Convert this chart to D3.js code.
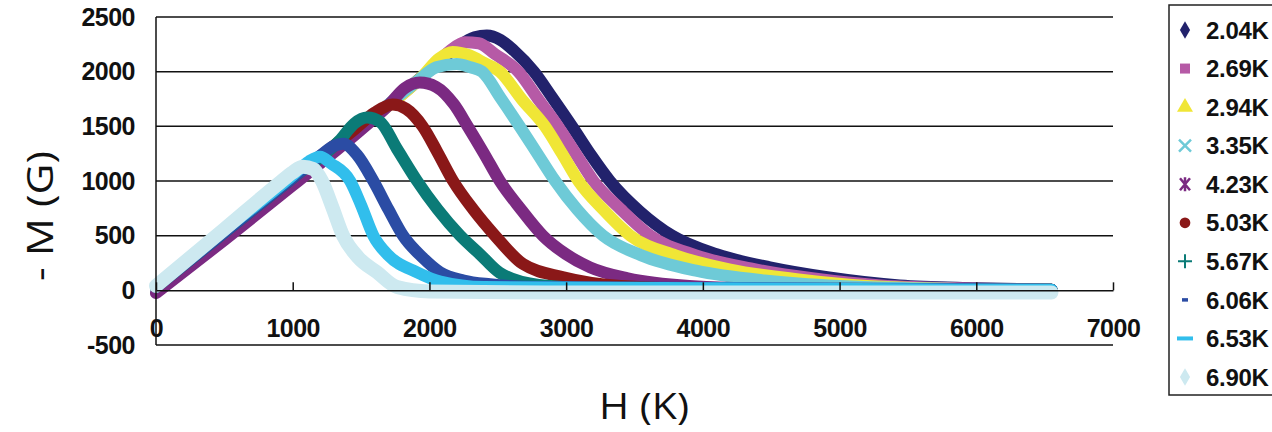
<!DOCTYPE html>
<html lang="en">

<head>
  <meta charset="utf-8">
  <title>M-H curves</title>
  <script src="https://d3js.org/d3.v7.min.js" charset="utf-8"></script>
  <style type="text/css">
    body {
      margin: 0;
      background: #fff;
    }

    .tick text {
      font-family: "Liberation Sans", Arial, sans-serif;
      font-weight: bold;
      font-size: 25px;
      letter-spacing: -0.5px;
      fill: #111;
    }

    .title {
      font-family: "Open Sans", sans-serif;
      font-size: 37px;
      fill: #111;
    }

    .legend text {
      font-family: "Liberation Sans", Arial, sans-serif;
      font-weight: bold;
      font-size: 24px;
      letter-spacing: -0.3px;
      fill: #111;
    }
  </style>
</head>

<body>
  <script type="text/javascript">
    // values: [H, -M]
    var labels = ["2.04K", "2.69K", "2.94K", "3.35K", "4.23K", "5.03K", "5.67K", "6.06K", "6.53K", "6.90K"];
    var colors = ["#22226c", "#b65aa6", "#f0e636", "#6ecad7", "#7b2a82", "#8a1818", "#0b7b77", "#2b4ca4", "#31beec", "#cde9f0"];

    var s204 = [[0, -10], [500, 480], [1000, 980], [1500, 1490], [2000, 2010], [2200, 2220], [2330, 2315], [2420, 2330], [2520, 2290], [2620, 2190], [2765, 2000], [2900, 1760], [3043, 1500], [3180, 1240], [3320, 1000], [3540, 720], [3775, 500], [4100, 330], [4490, 210], [4910, 120], [5440, 45], [6000, 20], [6550, 5]];
    var s269 = [[0, -10], [500, 480], [1000, 980], [1500, 1490], [2000, 2010], [2150, 2190], [2260, 2270], [2360, 2260], [2480, 2160], [2650, 2000], [2800, 1740], [2940, 1500], [3070, 1250], [3200, 1000], [3400, 740], [3615, 500], [3950, 320], [4350, 200], [4800, 110], [5300, 45], [6000, 15], [6550, 5]];
    var s294 = [[0, -10], [500, 480], [1000, 980], [1500, 1490], [1950, 1960], [2070, 2120], [2170, 2180], [2290, 2150], [2400, 2080], [2515, 2000], [2680, 1740], [2845, 1500], [2970, 1250], [3090, 1000], [3270, 740], [3470, 500], [3800, 320], [4200, 190], [4700, 100], [5200, 40], [6000, 10], [6550, 5]];
    var s335 = [[0, -10], [500, 480], [1000, 980], [1500, 1490], [1900, 1900], [2050, 2040], [2200, 2070], [2300, 2040], [2385, 2000], [2520, 1760], [2660, 1500], [2790, 1250], [2920, 1000], [3080, 740], [3270, 500], [3550, 320], [3950, 180], [4450, 90], [5000, 40], [6000, 10], [6550, 5]];
    var s423 = [[0, -25], [500, 460], [1000, 960], [1500, 1470], [1700, 1690], [1820, 1850], [1930, 1900], [2050, 1860], [2180, 1700], [2280, 1500], [2400, 1250], [2515, 1000], [2670, 740], [2830, 500], [3000, 330], [3175, 210], [3450, 110], [3900, 40], [4500, 15], [6550, 5]];
    var s503 = [[0, 30], [500, 530], [1000, 1030], [1450, 1470], [1600, 1625], [1730, 1700], [1830, 1660], [1950, 1500], [2060, 1260], [2173, 1000], [2320, 740], [2480, 500], [2685, 240], [2980, 120], [3400, 40], [4000, 15], [6550, 5]];
    var s567 = [[0, 30], [500, 530], [1000, 1030], [1350, 1380], [1450, 1525], [1545, 1580], [1640, 1540], [1760, 1300], [1910, 1000], [2060, 740], [2225, 500], [2370, 330], [2515, 160], [2800, 50], [3300, 15], [6550, 5]];
    var s606 = [[0, 30], [500, 530], [1000, 1030], [1200, 1230], [1300, 1320], [1370, 1340], [1470, 1240], [1590, 1000], [1700, 740], [1807, 500], [1950, 300], [2078, 165], [2250, 90], [2443, 55], [2800, 30], [6550, 5]];
    var s653 = [[0, 40], [500, 550], [1000, 1050], [1120, 1180], [1200, 1222], [1280, 1160], [1420, 1000], [1500, 780], [1590, 500], [1700, 320], [1910, 165], [2080, 80], [2400, 30], [6550, 5]];
    var s690 = [[0, 40], [500, 560], [900, 980], [1000, 1080], [1075, 1130], [1150, 1110], [1214, 1000], [1290, 760], [1368, 500], [1480, 300], [1617, 165], [1763, 30], [2000, -10], [3000, -20], [4500, -20], [6550, -20]];

    var series = [s204, s269, s294, s335, s423, s503, s567, s606, s653, s690];

    var xTicks = [0, 1000, 2000, 3000, 4000, 5000, 6000, 7000];
    var yTicks = [-500, 0, 500, 1000, 1500, 2000, 2500];

    var width = 1272,
      height = 432;

    var svg = d3.select("body")
      .append("svg")
      .attr("width", width)
      .attr("height", height);

    var x = d3.scaleLinear()
      .domain([0, 7000])
      .range([156, 1113]);

    var y = d3.scaleLinear()
      .domain([-500, 2500])
      .range([345, 17]);

    // horizontal grid lines and bottom edge
    svg.append("g")
      .selectAll("line")
      .data(yTicks.filter(function (d) { return d != 0; }))
      .enter()
      .append("line")
      .attr("x1", x(0))
      .attr("x2", x(7000))
      .attr("y1", function (d) { return y(d); })
      .attr("y2", function (d) { return y(d); })
      .attr("stroke", "#111")
      .attr("stroke-width", 1.5);

    // curves
    var line = d3.line()
      .x(function (d) { return x(d[0]); })
      .y(function (d) { return y(d[1]); })
      .curve(d3.curveMonotoneX);

    svg.append("g")
      .selectAll("path")
      .data(series)
      .enter()
      .append("path")
      .attr("d", line)
      .attr("fill", "none")
      .attr("stroke", function (d, i) { return colors[i]; })
      .attr("stroke-width", function (d, i) { return i == 9 ? 14 : 12; })
      .attr("stroke-linecap", "round")
      .attr("stroke-linejoin", "round");

    // zero axis with ticks pointing up
    svg.append("g")
      .attr("transform", "translate(0," + y(0) + ")")
      .call(d3.axisTop(x).tickValues(xTicks).tickSize(8).tickFormat("").tickSizeOuter(0))
      .call(function (g) {
        g.selectAll("path, line").attr("stroke", "#111").attr("stroke-width", 1.5);
      });

    // y axis line
    svg.append("line")
      .attr("x1", x(0)).attr("x2", x(0))
      .attr("y1", y(2500)).attr("y2", y(-500))
      .attr("stroke", "#111")
      .attr("stroke-width", 1.5);

    // tick labels
    var plain = function (d) { return d < 0 ? "-" + Math.abs(d) : String(d); };

    svg.append("g")
      .attr("transform", "translate(0,319)")
      .call(d3.axisBottom(x).tickValues(xTicks).tickSize(0).tickPadding(0).tickFormat(plain))
      .call(function (g) { g.select(".domain").remove(); });

    svg.append("g")
      .attr("transform", "translate(" + x(0) + ",0)")
      .call(d3.axisLeft(y).tickValues(yTicks).tickSize(0).tickPadding(21).tickFormat(plain))
      .call(function (g) { g.select(".domain").remove(); });

    // axis titles
    svg.append("text")
      .attr("class", "title")
      .attr("text-anchor", "middle")
      .attr("transform", "translate(53,216) rotate(-90)")
      .attr("textLength", 130)
      .attr("lengthAdjust", "spacingAndGlyphs")
      .text("- M (G)");

    svg.append("text")
      .attr("class", "title")
      .attr("text-anchor", "middle")
      .attr("x", 644)
      .attr("y", 419)
      .attr("textLength", 90)
      .attr("lengthAdjust", "spacingAndGlyphs")
      .text("H (K)");

    // legend
    var legend = svg.append("g").attr("class", "legend");

    legend.append("rect")
      .attr("x", 1169)
      .attr("y", 5)
      .attr("width", 120)
      .attr("height", 390)
      .attr("fill", "#fff")
      .attr("stroke", "#222")
      .attr("stroke-width", 1.5);

    var row = d3.scaleLinear().domain([0, 9]).range([30, 377]);

    var items = legend.selectAll("g.item")
      .data(labels)
      .enter()
      .append("g")
      .attr("class", "item")
      .attr("transform", function (d, i) { return "translate(1185," + row(i) + ")"; });

    items.append("text")
      .attr("x", 21)
      .attr("dy", "0.36em")
      .text(function (d) { return d; });

    items.each(function (d, i) {
      var g = d3.select(this);
      var c = colors[i];
      if (i == 0 || i == 9) {
        g.append("path").attr("d", d3.symbol(d3.symbolDiamond, 90)()).attr("fill", c);
      } else if (i == 1) {
        g.append("path").attr("d", d3.symbol(d3.symbolSquare, 100)()).attr("fill", c);
      } else if (i == 2) {
        g.append("path").attr("d", d3.symbol(d3.symbolTriangle, 110)()).attr("fill", c);
      } else if (i == 5) {
        g.append("path").attr("d", d3.symbol(d3.symbolCircle, 90)()).attr("fill", c);
      } else if (i == 3) {
        g.append("path").attr("d", "M-6,-6L6,6M-6,6L6,-6").attr("stroke", c).attr("stroke-width", 2.5);
      } else if (i == 4) {
        g.append("path").attr("d", "M-5,-6L5,6M-5,6L5,-6M0,-7L0,7").attr("stroke", c).attr("stroke-width", 2.5);
      } else if (i == 6) {
        g.append("path").attr("d", "M-7,0L7,0M0,-7L0,7").attr("stroke", c).attr("stroke-width", 2);
      } else if (i == 7) {
        g.append("path").attr("d", "M-3,0L3,0").attr("stroke", c).attr("stroke-width", 3.5);
      } else if (i == 8) {
        g.append("path").attr("d", "M-8,0L8,0").attr("stroke", c).attr("stroke-width", 4);
      }
    });
  </script>
</body>

</html>
